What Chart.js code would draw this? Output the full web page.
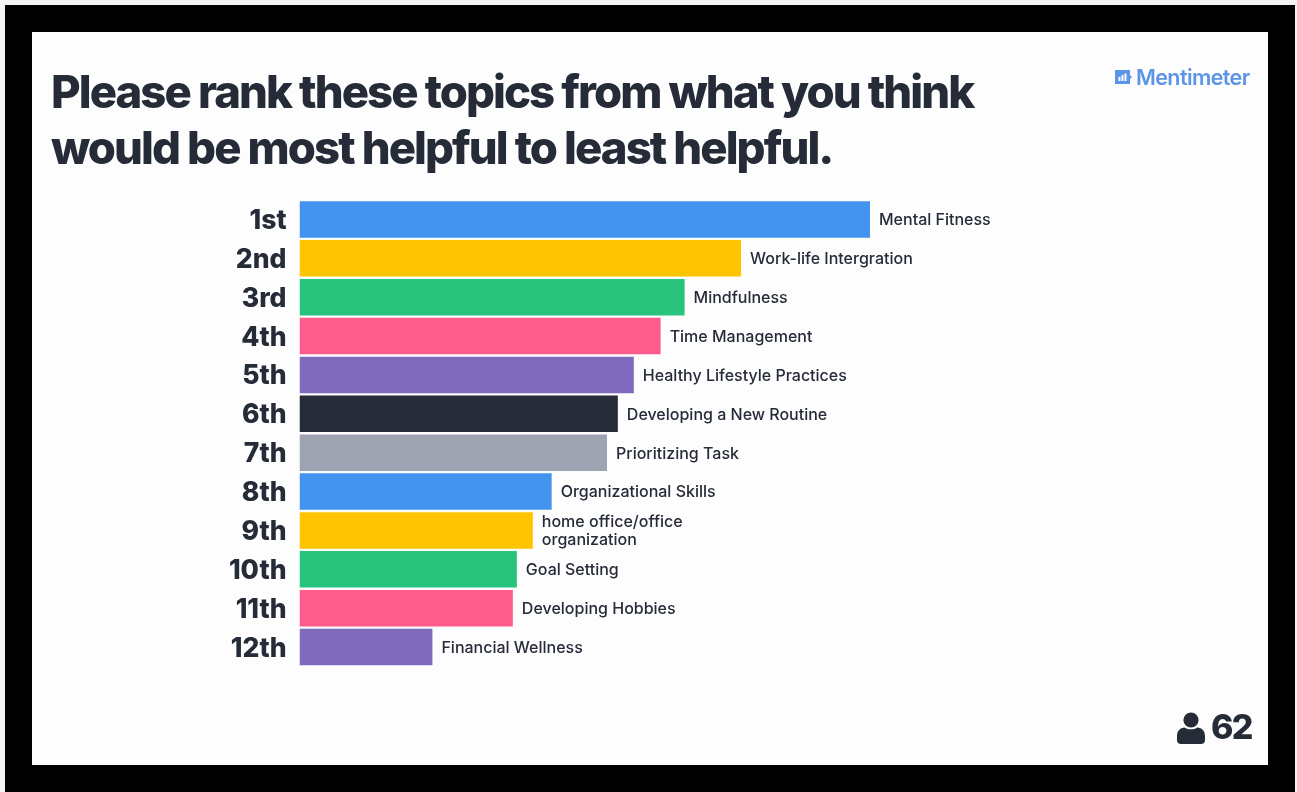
<!DOCTYPE html>
<html lang="en">
<head>
<meta charset="utf-8">
<title>Topic ranking</title>
<script src="https://cdn.jsdelivr.net/npm/chart.js@4"></script>
<style>
  html, body { margin: 0; height: 100%; background: #f4f4f4; overflow: hidden; }
  #frame { position: absolute; left: 5px; top: 5px; width: 1290px; height: 787px; background: #000; }
  #slide { position: absolute; left: 32px; top: 32px; width: 1236px; height: 733px; background: #fdfdfe; }
  #chart { position: absolute; left: 0; top: 0; }
  .title { position: absolute; left: 51px; margin: 0; font: 800 45.5px/56px Inter, sans-serif; color: #262b38; white-space: nowrap; letter-spacing: -1.93px; }
  #brand { position: absolute; left: 1136px; top: 64px; font: 600 21.5px/27px Inter, sans-serif; letter-spacing: -0.6px; color: #5c94e6; white-space: nowrap; }
  #brandIcon { position: absolute; left: 1115px; top: 69px; }
  #count { position: absolute; left: 1211px; top: 706px; font: 800 34px/42px Inter, sans-serif; letter-spacing: -1.7px; color: #262b38; }
  #person { position: absolute; left: 1177px; top: 712px; }
</style>
</head>
<body>
<div id="frame"></div>
<div id="slide"></div>
<canvas id="chart" width="1297" height="792"></canvas>
<h1 class="title" style="top:64px">Please rank these topics from what you think</h1>
<h1 class="title" style="top:120px">would be most helpful to least helpful.</h1>
<svg id="brandIcon" width="18" height="16" viewBox="0 0 18 16">
  <rect x="0" y="1" width="15" height="14" fill="#5c94e6"/>
  <path d="M15 6l2 2-2 2z" fill="#5c94e6"/>
  <rect x="3.5" y="8" width="2" height="4" fill="#fff"/>
  <rect x="6.5" y="6" width="2" height="6" fill="#fff"/>
  <rect x="9.5" y="4.5" width="2" height="7.5" fill="#fff"/>
</svg>
<div id="brand">Mentimeter</div>
<svg id="person" width="28" height="32" viewBox="0 0 28 32">
  <circle cx="14" cy="8" r="7.6" fill="#262b38"/>
  <path d="M0 24c0-5 3.500-8.500 7.500-8.500 2 1.300 4 1.800 6.500 1.800s4.500-.5 6.500-1.800c4 0 7.500 3.500 7.500 8.500v4c0 2.500-1.500 4-4 4H4c-2.500 0-4-1.500-4-4z" fill="#262b38"/>
</svg>
<div id="count">62</div>
<script>
const ranks = ['1st','2nd','3rd','4th','5th','6th','7th','8th','9th','10th','11th','12th'];
const topics = [
  'Mental Fitness', 'Work-life Intergration', 'Mindfulness', 'Time Management',
  'Healthy Lifestyle Practices', 'Developing a New Routine', 'Prioritizing Task',
  'Organizational Skills', ['home office/office', 'organization'], 'Goal Setting',
  'Developing Hobbies', 'Financial Wellness'
];
// Relative ranking score of each topic, leading topic = 100
const scores = [100, 77.4, 67.5, 63.3, 58.6, 55.8, 53.9, 44.2, 40.9, 38.1, 37.4, 23.3];
const barColors = ['#4394ee','#ffc300','#28c47e','#ff5c8d','#7f6bbd','#262b38','#9da3b0','#4394ee','#ffc300','#28c47e','#ff5c8d','#7f6bbd'];
const inkColor = '#262b38';

// Writes each topic name just past the end of its bar
const barEndLabels = {
  id: 'barEndLabels',
  afterDatasetsDraw(chart) {
    const { ctx } = chart;
    const bars = chart.getDatasetMeta(0).data;
    ctx.save();
    ctx.font = '500 16px Inter, sans-serif';
    ctx.fillStyle = inkColor;
    ctx.textBaseline = 'middle';
    ctx.textAlign = 'left';
    bars.forEach((bar, i) => {
      const lines = [].concat(topics[i]);
      const lineHeight = 18;
      lines.forEach((line, j) => {
        const y = bar.y + 1 + (j - (lines.length - 1) / 2) * lineHeight;
        ctx.fillText(line, bar.x + 9, y);
      });
    });
    ctx.restore();
  }
};

// Rank labels sit slightly below the bar centre
const rankLabelNudge = {
  id: 'rankLabelNudge',
  beforeDraw(chart) {
    chart.scales.y.getLabelItems(chart.chartArea).forEach(item => {
      item.options.translation[1] += 1.5;
    });
  }
};

new Chart(document.getElementById('chart'), {
  type: 'bar',
  data: {
    labels: ranks,
    datasets: [{ data: scores, backgroundColor: barColors, barPercentage: 0.94, categoryPercentage: 1 }]
  },
  options: {
    indexAxis: 'y',
    responsive: false,
    animation: false,
    layout: { padding: { left: 0, right: 427, top: 200, bottom: 125.5 } },
    plugins: { legend: { display: false }, tooltip: { enabled: false } },
    scales: {
      x: { display: false, min: 0, max: 100 },
      y: {
        afterFit(scale) { scale.width = 299.5; },
        grid: { display: false, drawTicks: false },
        border: { display: false },
        ticks: { color: inkColor, padding: 13, font: { family: 'Inter, sans-serif', size: 26.5, weight: '800' } }
      }
    }
  },
  plugins: [barEndLabels, rankLabelNudge]
});
</script>
</body>
</html>
